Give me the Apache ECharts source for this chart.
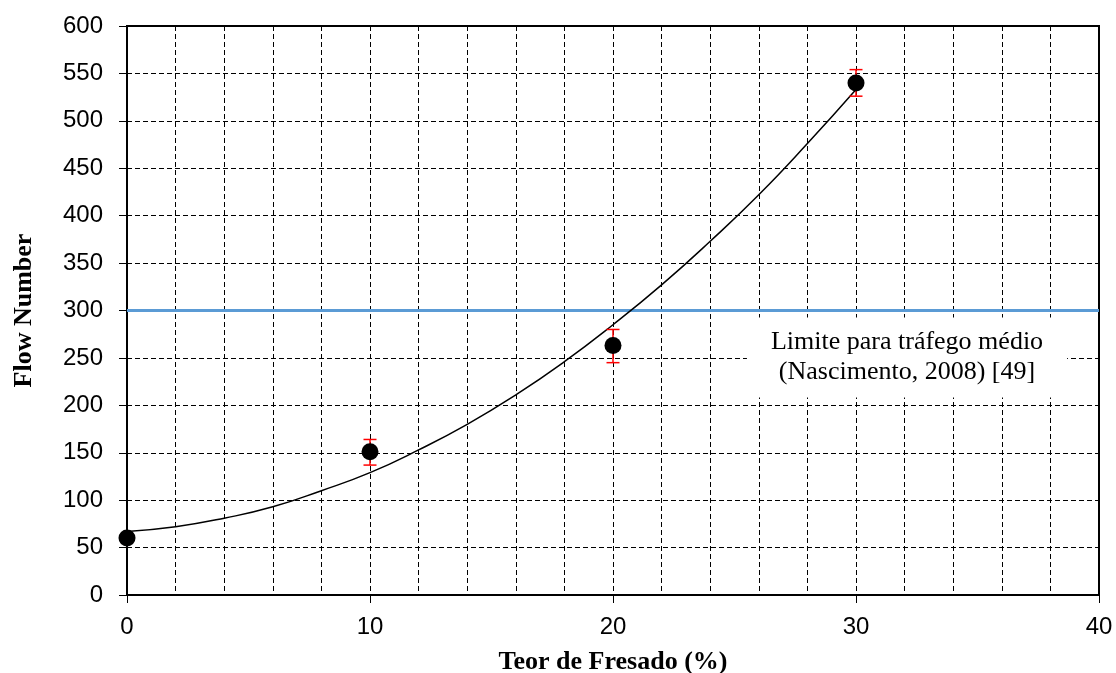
<!DOCTYPE html>
<html>
<head>
<meta charset="utf-8">
<script src="https://cdn.jsdelivr.net/npm/echarts@6/dist/echarts.min.js"></script>
<style>
  html, body { margin: 0; padding: 0; background: #fff; }
  #chart { width: 1116px; height: 673px; }
</style>
</head>
<body>
<div id="chart"></div>
<script>
// pontos medidos
var teorFresado = [0, 10, 20, 30];
var flowNumber = [60, 151, 263, 540];
var erroMin = [56, 137, 245, 526];
var erroMax = [64, 164, 280, 554];

// linha de tendencia
var tendX = [0, 2, 4, 6, 8, 10, 12, 14, 16, 18, 20, 22, 24, 26, 28, 30];
var tendY = [67, 72, 81, 93, 110, 129, 153, 180, 211, 246, 285, 327, 373, 422, 476, 533];

// limite
var limiteX = [0, 40];
var limiteY = 300;

var myChart = echarts.init(document.getElementById('chart'));

var dashStyle = { color: '#000', width: 1, type: [5, 3] };

var option = {
  animation: false,
  backgroundColor: '#fff',
  grid: {
    left: 127,
    right: 17,
    top: 26,
    bottom: 78,
    outerBoundsMode: 'none',
    containLabel: false,
    show: true,
    borderColor: '#000',
    borderWidth: 2
  },
  xAxis: {
    type: 'value',
    min: 0,
    max: 40,
    interval: 10,
    name: 'Teor de Fresado (%)',
    nameLocation: 'middle',
    nameGap: 54,
    nameTextStyle: {
      fontFamily: 'Liberation Serif',
      fontWeight: 'bold',
      fontSize: 26,
      color: '#000'
    },
    axisLine: { lineStyle: { color: '#000', width: 2 } },
    axisTick: { show: true, inside: false, length: 8, lineStyle: { color: '#000', width: 1 } },
    axisLabel: {
      margin: 20,
      fontFamily: 'Liberation Sans',
      fontSize: 24,
      color: '#000'
    },
    splitLine: { show: true, lineStyle: dashStyle },
    minorTick: { show: false, splitNumber: 5 },
    minorSplitLine: { show: true, lineStyle: dashStyle }
  },
  yAxis: {
    type: 'value',
    min: 0,
    max: 600,
    interval: 50,
    name: 'Flow Number',
    nameLocation: 'middle',
    nameGap: 90,
    nameTextStyle: {
      fontFamily: 'Liberation Serif',
      fontWeight: 'bold',
      fontSize: 26,
      color: '#000'
    },
    axisLine: { show: true, lineStyle: { color: '#000', width: 2 } },
    axisTick: { show: true, inside: false, length: 8, lineStyle: { color: '#000', width: 1 } },
    axisLabel: {
      margin: 24,
      fontFamily: 'Liberation Sans',
      fontSize: 24,
      color: '#000'
    },
    splitLine: { show: true, lineStyle: dashStyle }
  },
  series: [
    {
      name: 'limite',
      type: 'line',
      showSymbol: false,
      z: 3,
      lineStyle: { color: '#5B9BD5', width: 3 },
      data: limiteX.map(function (x) { return [x, limiteY]; }),
      markPoint: {
        symbol: 'rect',
        symbolSize: 0,
        silent: true,
        data: [{ coord: [32.1, 250.5] }],
        label: {
          show: true,
          position: 'inside',
          formatter: 'Limite para tráfego médio\n(Nascimento, 2008) [49]',
          fontFamily: 'Liberation Serif',
          fontSize: 26,
          lineHeight: 30,
          align: 'center',
          color: '#000',
          backgroundColor: '#fff',
          padding: [10, 24]
        }
      }
    },
    {
      name: 'tendencia',
      type: 'line',
      smooth: true,
      showSymbol: false,
      z: 4,
      lineStyle: { color: '#000', width: 1.5 },
      data: tendX.map(function (x, i) { return [x, tendY[i]]; })
    },
    {
      name: 'erro',
      type: 'custom',
      z: 5,
      renderItem: function (params, api) {
        var x = api.value(0);
        var lo = api.coord([x, api.value(1)]);
        var hi = api.coord([x, api.value(2)]);
        var w = 6.5;
        var st = { stroke: '#ff0000', lineWidth: 1.5 };
        return {
          type: 'group',
          children: [
            { type: 'line', shape: { x1: lo[0], y1: lo[1], x2: hi[0], y2: hi[1] }, style: st },
            { type: 'line', shape: { x1: hi[0] - w, y1: hi[1], x2: hi[0] + w, y2: hi[1] }, style: st },
            { type: 'line', shape: { x1: lo[0] - w, y1: lo[1], x2: lo[0] + w, y2: lo[1] }, style: st }
          ]
        };
      },
      data: teorFresado.map(function (x, i) { return [x, erroMin[i], erroMax[i]]; })
    },
    {
      name: 'flow',
      type: 'scatter',
      symbol: 'circle',
      symbolSize: 17,
      z: 6,
      itemStyle: { color: '#000', opacity: 1 },
      data: teorFresado.map(function (x, i) { return [x, flowNumber[i]]; })
    }
  ]
};

myChart.setOption(option);
</script>
</body>
</html>
